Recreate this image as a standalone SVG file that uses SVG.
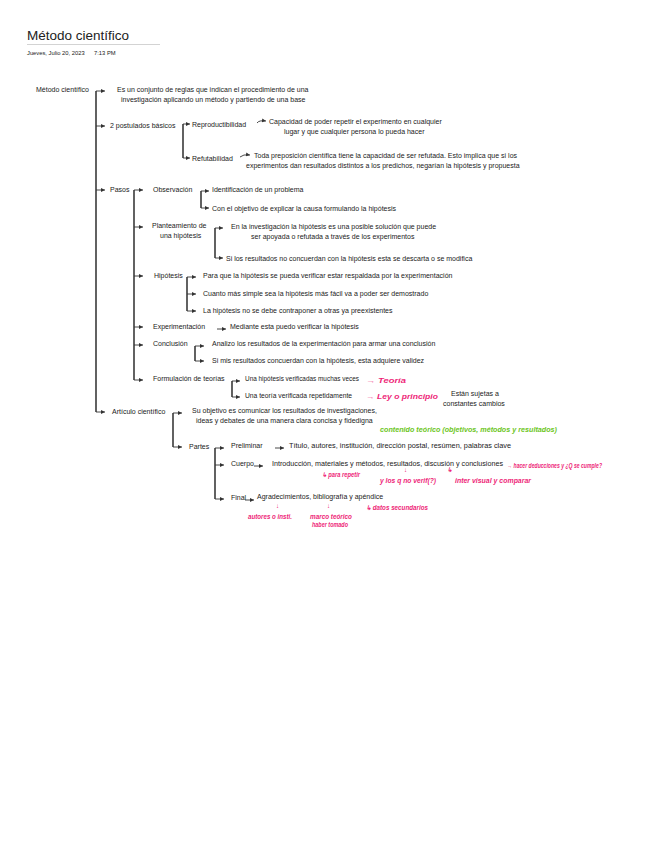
<svg xmlns="http://www.w3.org/2000/svg" width="655" height="848" viewBox="0 0 655 848">
<defs>
<marker id="ah" markerUnits="userSpaceOnUse" markerWidth="5" markerHeight="5" refX="4" refY="2.5" orient="auto">
<path d="M0,0.5 L4,2.5 L0,4.5 z" fill="#333"/>
</marker>
<style>
text{font-family:"Liberation Sans",Arial,sans-serif;font-size:7px;fill:#1a1a1a}
.title{font-size:13.5px;fill:#222}
.date{font-size:5.8px}
.br{fill:none;stroke:#3a3a3a;stroke-width:1.6}
.ar{fill:none;stroke:#333;stroke-width:0.9;marker-end:url(#ah)}
.pk{fill:#ee1f78;font-style:italic;font-weight:bold;font-size:6.3px}
.gr{fill:#6cc51c;font-style:italic;font-weight:bold;font-size:6.3px}
</style>
</defs>
<rect width="655" height="848" fill="#fff"/>

<g id="header">
<text class="title" x="27" y="40">Método científico</text>
<line x1="27" y1="44.5" x2="160" y2="44.5" stroke="#c8c8c8" stroke-width="0.8"/>
<text class="date" x="27" y="55">Jueves, Julio 20, 2023</text>
<text class="date" x="94" y="55">7:13 PM</text>
</g>

<g id="connectors">
<path class="br" d="M96,91 V412"/>
<path class="ar" d="M96,91 H105"/>
<path class="ar" d="M96,126 H105"/>
<path class="ar" d="M96,190 H105"/>
<path class="ar" d="M96,412 H105"/>
<path class="br" d="M183,124 V158"/>
<path class="ar" d="M183,124 H190"/>
<path class="ar" d="M183,158 H190"/>
<path class="ar" d="M257,123 Q259,120 266,121"/>
<path class="ar" d="M240,157 Q243,154 250,155"/>
<path class="br" d="M134,190 V380"/>
<path class="ar" d="M134,190 H143"/>
<path class="ar" d="M134,227 H143"/>
<path class="ar" d="M134,276 H143"/>
<path class="ar" d="M134,327 H143"/>
<path class="ar" d="M134,345 H143"/>
<path class="ar" d="M134,380 H143"/>
<path class="br" d="M201,191 V208"/>
<path class="ar" d="M201,191 H209"/>
<path class="ar" d="M201,208 H209"/>
<path class="br" d="M215,228 V258"/>
<path class="ar" d="M215,228 H223"/>
<path class="ar" d="M215,258 H223"/>
<path class="br" d="M187,277 V311"/>
<path class="ar" d="M187,277 H196"/>
<path class="ar" d="M187,294 H196"/>
<path class="ar" d="M187,311 H196"/>
<path class="ar" d="M217,329 H226"/>
<path class="br" d="M195,346 V361"/>
<path class="ar" d="M195,346 H204"/>
<path class="ar" d="M195,361 H204"/>
<path class="br" d="M232,381 V397"/>
<path class="ar" d="M232,381 H240"/>
<path class="ar" d="M232,397 H240"/>
<path class="br" d="M173,413 V447"/>
<path class="ar" d="M173,413 H182"/>
<path class="ar" d="M173,447 H182"/>
<path class="br" d="M215,448 V499"/>
<path class="ar" d="M215,448 H224"/>
<path class="ar" d="M215,465 H224"/>
<path class="ar" d="M215,499 H224"/>
<path class="ar" d="M275,448 H284"/>
<path class="ar" d="M254,466 H263"/>
<path class="ar" d="M245,500 H254"/>
</g>

<g id="n-metodo"><text x="36" y="92">Método científico</text></g>
<g id="n-def">
<text x="117" y="91.5">Es un conjunto de reglas que indican el procedimiento de una</text>
<text x="121" y="101.5">investigación aplicando un método y partiendo de una base</text>
</g>
<g id="n-postulados"><text x="110" y="128">2 postulados básicos</text></g>
<g id="n-reproductibilidad"><text x="192" y="127">Reproductibilidad</text></g>
<g id="n-reproductibilidad-def">
<text x="269" y="123.5">Capacidad de poder repetir el experimento en cualquier</text>
<text x="284" y="133.5">lugar y que cualquier persona lo pueda hacer</text>
</g>
<g id="n-refutabilidad"><text x="192" y="160.5">Refutabilidad</text></g>
<g id="n-refutabilidad-def">
<text x="254" y="158">Toda preposición científica tiene la capacidad de ser refutada. Esto implica que si los</text>
<text x="246" y="168">experimentos dan resultados distintos a los predichos, negarían la hipótesis y propuesta</text>
</g>
<g id="n-pasos"><text x="110" y="192">Pasos</text></g>
<g id="n-observacion"><text x="153" y="192">Observación</text></g>
<g id="n-obs-1"><text x="212" y="192">Identificación de un problema</text></g>
<g id="n-obs-2"><text x="212" y="210.5">Con el objetivo de explicar la causa formulando la hipótesis</text></g>
<g id="n-planteamiento">
<text x="152" y="228">Planteamiento de</text>
<text x="160" y="238">una hipótesis</text>
</g>
<g id="n-plant-1">
<text x="231" y="229">En la investigación la hipótesis es una posible solución que puede</text>
<text x="251" y="239">ser apoyada o refutada a través de los experimentos</text>
</g>
<g id="n-plant-2"><text x="226" y="261">Si los resultados no concuerdan con la hipótesis esta se descarta o se modifica</text></g>
<g id="n-hipotesis"><text x="154" y="278">Hipótesis</text></g>
<g id="n-hip-1"><text x="203" y="278">Para que la hipótesis se pueda verificar estar respaldada por la experimentación</text></g>
<g id="n-hip-2"><text x="203" y="296">Cuanto más simple sea la hipótesis más fácil va a poder ser demostrado</text></g>
<g id="n-hip-3"><text x="203" y="313">La hipótesis no se debe contraponer a otras ya preexistentes</text></g>
<g id="n-experimentacion"><text x="153" y="329">Experimentación</text></g>
<g id="n-exp-1"><text x="230" y="329">Mediante esta puedo verificar la hipótesis</text></g>
<g id="n-conclusion"><text x="153" y="346">Conclusión</text></g>
<g id="n-con-1"><text x="212" y="346">Analizo los resultados de la experimentación para armar una conclusión</text></g>
<g id="n-con-2"><text x="212" y="363">Si mis resultados concuerdan con la hipótesis, esta adquiere validez</text></g>
<g id="n-formulacion"><text x="153" y="381">Formulación de teorías</text></g>
<g id="n-form-1"><text x="245" y="381" textLength="114" lengthAdjust="spacingAndGlyphs">Una hipótesis verificadas muchas veces</text></g>
<g id="n-form-2"><text x="245" y="398" textLength="107" lengthAdjust="spacingAndGlyphs">Una teoría verificada repetidamente</text></g>
<g id="n-cambios">
<text x="451" y="396">Están sujetas a</text>
<text x="443" y="406">constantes cambios</text>
</g>
<g id="n-articulo"><text x="112" y="414">Artículo científico</text></g>
<g id="n-art-def">
<text x="192" y="413">Su objetivo es comunicar los resultados de investigaciones,</text>
<text x="196" y="423">ideas y debates de una manera clara concisa y fidedigna</text>
</g>
<g id="n-partes"><text x="189" y="449">Partes</text></g>
<g id="n-preliminar"><text x="231" y="448">Preliminar</text></g>
<g id="n-preliminar-def"><text x="289" y="448" textLength="222" lengthAdjust="spacingAndGlyphs">Título, autores, institución, dirección postal, resúmen, palabras clave</text></g>
<g id="n-cuerpo"><text x="231" y="466">Cuerpo</text></g>
<g id="n-cuerpo-def"><text x="272" y="466" textLength="231" lengthAdjust="spacingAndGlyphs">Introducción, materiales y métodos, resultados, discusión y conclusiones</text></g>
<g id="n-final"><text x="231" y="500">Final</text></g>
<g id="n-final-def"><text x="257" y="499">Agradecimientos, bibliografía y apéndice</text></g>

<g id="annotations">
<text class="pk" x="366" y="383" textLength="40" lengthAdjust="spacingAndGlyphs">→ Teoría</text>
<text class="pk" x="366" y="399" textLength="72" lengthAdjust="spacingAndGlyphs">→ Ley o principio</text>
<text class="gr" x="380" y="432" textLength="177" lengthAdjust="spacingAndGlyphs">contenido teórico (objetivos, métodos y resultados)</text>
<text class="pk" x="507" y="468" textLength="95" lengthAdjust="spacingAndGlyphs">→ hacer deducciones y ¿Q se cumple?</text>
<text class="pk" x="322" y="477" textLength="38" lengthAdjust="spacingAndGlyphs">↳ para repetir</text>
<text class="pk" x="404" y="472">↓</text>
<text class="pk" x="380" y="483" textLength="56" lengthAdjust="spacingAndGlyphs">y los q no verif(?)</text>
<text class="pk" x="447" y="472">↳</text>
<text class="pk" x="455" y="483" textLength="76" lengthAdjust="spacingAndGlyphs">inter visual y comparar</text>
<text class="pk" x="276" y="508">↓</text>
<text class="pk" x="248" y="519" textLength="44" lengthAdjust="spacingAndGlyphs">autores o insti.</text>
<text class="pk" x="327" y="508">↓</text>
<text class="pk" x="310" y="519" textLength="42" lengthAdjust="spacingAndGlyphs">marco teórico</text>
<text class="pk" x="312" y="527" textLength="36" lengthAdjust="spacingAndGlyphs">haber tomado</text>
<text class="pk" x="366" y="510" textLength="62" lengthAdjust="spacingAndGlyphs">↳ datos secundarios</text>
</g>
</svg>
